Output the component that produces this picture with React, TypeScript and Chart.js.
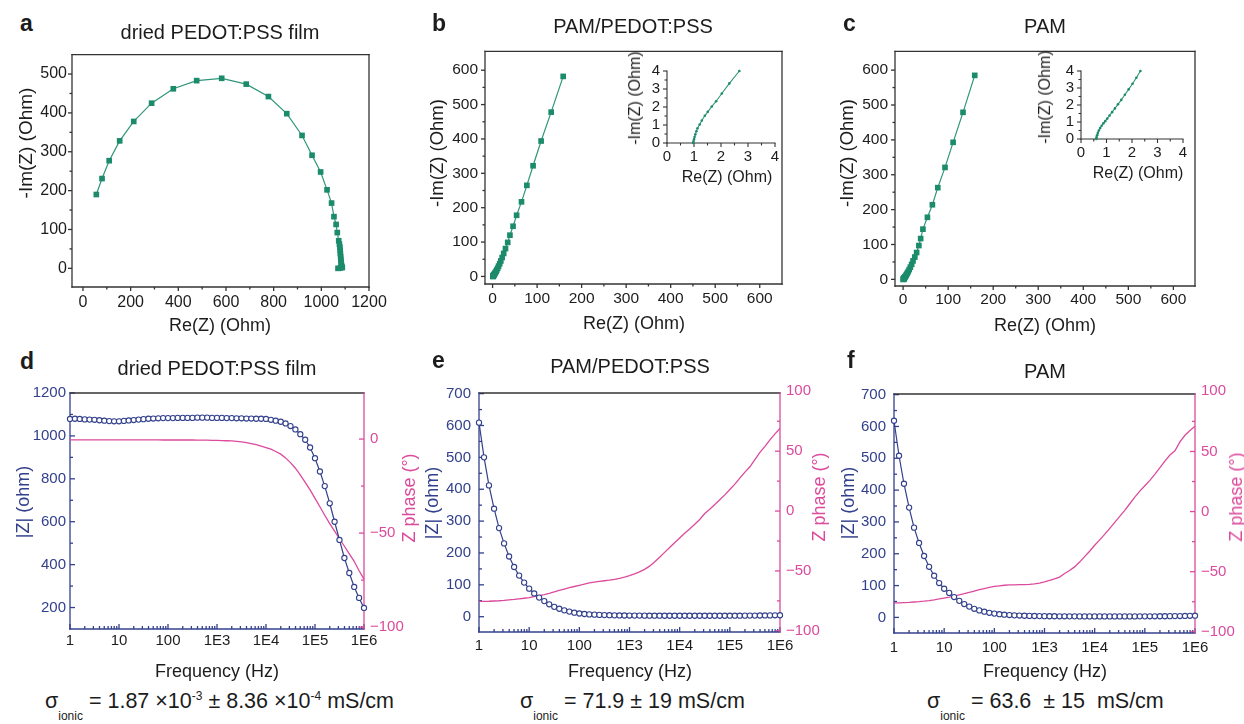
import React, { useEffect, useRef } from 'react';
import { Chart, registerables } from 'chart.js';

Chart.register(...registerables);
const FONT = "'Liberation Sans', Arial, Helvetica, sans-serif";
Chart.defaults.font.family = FONT;

const TEAL = '#1b8b6b';
const TEAL_LINE = '#2f967a';
const NAVY = '#33408c';
const PINK = '#dc4a9c';
const FRAME = '#333333';
const INK = '#1c1c1c';

// ---------- Nyquist data ----------
const A_RE = [56, 80, 110, 154, 213, 288, 379, 477, 582, 685, 778, 855, 919, 961, 997, 1024, 1043, 1053, 1062, 1067, 1073, 1076, 1078, 1079, 1080, 1081, 1082, 1083, 1084, 1086, 1088, 1080, 1070];
const A_IM = [190, 231, 277, 328, 378, 425, 462, 483, 489, 474, 442, 398, 342, 291, 248, 202, 168, 133, 113, 92, 71, 62, 54, 46, 38, 30, 23, 16, 10, 5, 2, 1, 0];

const B_RE = [158.6, 131.6, 109, 91, 77, 65, 54, 46, 39, 34, 29, 25, 21.5, 18.5, 16, 13.5, 11.5, 9.5, 8, 6.5, 5.3, 4.3, 3.5, 2.8, 2.2, 1.8, 1.5, 1.3, 1.15, 1.05, 1.0];
const B_IM = [582, 478, 394, 322, 265, 217, 178, 146, 120, 99, 81, 67, 55, 45, 37, 30, 24, 19, 15, 12, 9.3, 7.2, 5.6, 4.3, 3.3, 2.5, 1.8, 1.2, 0.7, 0.3, 0];

const C_RE = [159, 133, 111, 93, 77, 65, 54, 44, 39, 35, 30, 26, 22, 19, 16, 13.5, 11.3, 9.4, 7.8, 6.4, 5.2, 4.2, 3.4, 2.7, 2.2, 1.8, 1.45, 1.15, 0.9, 0.75, 0.65];
const C_IM = [585, 479, 393, 321, 263, 214, 178, 144, 117, 97, 77, 64, 53, 43, 35, 28, 22.5, 18, 14.5, 11.5, 9, 7, 5.6, 4.4, 3.4, 2.6, 1.9, 1.2, 0.6, 0.25, 0];

const IB_RE = [0.97, 0.98, 1.0, 1.02, 1.05, 1.09, 1.13, 1.21, 1.29, 1.4, 1.51, 1.66, 1.82, 2.03, 2.31, 2.68];
const IB_IM = [0, 0.08, 0.2, 0.33, 0.48, 0.65, 0.82, 1.03, 1.25, 1.51, 1.73, 2.03, 2.32, 2.75, 3.31, 4.0];

const IC_RE = [0.6, 0.61, 0.63, 0.66, 0.7, 0.75, 0.81, 0.88, 0.95, 1.03, 1.12, 1.22, 1.33, 1.45, 1.58, 1.72, 1.87, 2.02, 2.17, 2.33];
const IC_IM = [0, 0.1, 0.22, 0.36, 0.5, 0.64, 0.78, 0.92, 1.05, 1.2, 1.38, 1.58, 1.8, 2.04, 2.3, 2.6, 2.92, 3.25, 3.6, 4.0];

// ---------- Bode data ----------
const FREQ = [
  1, 1.26, 1.58, 2, 2.51, 3.16, 3.98, 5.01, 6.31, 7.94,
  10, 12.6, 15.8, 20, 25.1, 31.6, 39.8, 50.1, 63.1, 79.4,
  100, 126, 158, 200, 251, 316, 398, 501, 631, 794,
  1000, 1260, 1580, 2000, 2510, 3160, 3980, 5010, 6310, 7940,
  1e4, 1.26e4, 1.58e4, 2e4, 2.51e4, 3.16e4, 3.98e4, 5.01e4, 6.31e4, 7.94e4,
  1e5, 1.26e5, 1.58e5, 2e5, 2.51e5, 3.16e5, 3.98e5, 5.01e5, 6.31e5, 7.94e5,
  1e6,
];

const D_MAG = [
  1079, 1080, 1079, 1077, 1076, 1075, 1073, 1071, 1069, 1068,
  1068, 1070, 1072, 1074, 1076, 1078, 1080, 1081, 1082, 1083,
  1083, 1083, 1084, 1084, 1084, 1084, 1085, 1085, 1085, 1084,
  1084, 1084, 1083, 1083, 1082, 1082, 1081, 1081, 1080, 1080,
  1079, 1075, 1071, 1066, 1058, 1046, 1030, 1008, 982, 946,
  896, 834, 766, 686, 600, 515, 431, 361, 296, 245,
  198,
];
const D_PHASE = [
  -0.4, -0.4, -0.4, -0.4, -0.4, -0.4, -0.4, -0.4, -0.4, -0.4,
  -0.4, -0.4, -0.4, -0.4, -0.4, -0.4, -0.4, -0.4, -0.4, -0.5,
  -0.5, -0.5, -0.5, -0.5, -0.5, -0.5, -0.6, -0.6, -0.6, -0.7,
  -0.7, -0.8, -0.9, -1.0, -1.2, -1.5, -1.9, -2.4, -3.0, -3.7,
  -4.5, -5.4, -6.6, -8.0, -10, -12.5, -15.5, -19, -23, -27,
  -31.5, -36, -40.5, -45, -49, -53, -57, -61, -65, -70,
  -74.5,
];

const E_MAG = [
  609, 500, 412, 339, 278, 230, 189, 156, 129, 107,
  88, 73, 60, 49, 39, 31, 25, 20, 16, 12.5,
  10, 8.5, 7.3, 6.4, 5.7, 5.1, 4.7, 4.3, 4.0, 3.8,
  3.6, 3.5, 3.4, 3.3, 3.2, 3.1, 3.1, 3.0, 3.0, 3.0,
  3.0, 3.0, 3.0, 3.0, 3.0, 3.0, 3.0, 3.0, 3.0, 3.0,
  3.1, 3.1, 3.2, 3.3, 3.4, 3.5, 3.7, 3.9, 4.1, 4.4,
  4.6,
];
const E_PHASE = [
  -75.5, -75.4, -75.3, -75.1, -74.9, -74.6, -74.2, -73.8, -73.3, -72.8,
  -72.3, -71.5, -70.6, -69.7, -68.7, -67.5, -66.3, -65.1, -64, -63,
  -62, -61, -60, -59.4, -58.8, -58.2, -57.7, -57, -56.2, -55.2,
  -54, -52.5, -50.8, -48.7, -46, -42.5, -38.5, -34.5, -30.5, -26.5,
  -22.5, -18.5, -15, -11, -7, -2, 1.5, 5.5, 9.5, 13.5,
  18, 22.5, 27.5, 32.5, 37, 43, 49, 54, 59.5, 64.5,
  69,
];

const F_MAG = [
  618, 508, 420, 345, 282, 234, 193, 159, 131, 108,
  90, 77, 64, 52, 42, 34, 27, 22, 18, 14.5,
  12, 10, 8.5, 7.4, 6.5, 5.8, 5.2, 4.8, 4.4, 4.1,
  3.9, 3.7, 3.6, 3.5, 3.4, 3.3, 3.3, 3.2, 3.2, 3.2,
  3.2, 3.2, 3.2, 3.2, 3.2, 3.2, 3.2, 3.2, 3.2, 3.3,
  3.3, 3.4, 3.5, 3.6, 3.7, 3.9, 4.1, 4.3, 4.6, 5.0,
  5.3,
];
const F_PHASE = [
  -76, -75.9, -75.7, -75.5, -75.2, -74.9, -74.5, -74, -73.4, -72.7,
  -71.9, -71.2, -70.3, -69.2, -68.3, -67.2, -66.1, -65, -64, -63,
  -62.3, -61.8, -61.3, -61, -60.9, -60.8, -60.8, -60.6, -60.2, -59.5,
  -58.5, -57.3, -56, -54.5, -51.5, -49, -46, -42, -37.5, -33,
  -28, -23.5, -19, -14, -9, -4, 1, 6.5, 12, 17,
  21.5, 26, 31, 36.5, 42, 47, 50.5, 58, 63.5, 67.5,
  71,
];

// ---------- tick labels ----------
const A_X_TICKS = [0, 200, 400, 600, 800, 1000, 1200];
const A_Y_TICKS = [0, 100, 200, 300, 400, 500];
const BC_TICKS = [0, 100, 200, 300, 400, 500, 600];
const INSET_TICKS = [0, 1, 2, 3, 4];
const FREQ_TICKS = [1, 10, 100, 1e3, 1e4, 1e5, 1e6];
const FREQ_LABELS = ['1', '10', '100', '1E3', '1E4', '1E5', '1E6'];
const D_MAG_TICKS = [200, 400, 600, 800, 1000, 1200];
const D_PHASE_TICKS = [-100, -50, 0];
const EF_MAG_TICKS = [0, 100, 200, 300, 400, 500, 600, 700];
const EF_PHASE_TICKS = [-100, -50, 0, 50, 100];

// ---------- helpers ----------
const pts = (xs: number[], ys: number[]) => xs.map((x, i) => ({ x, y: ys[i] }));
const mids = (a: number[]) => a.slice(0, -1).map((v, i) => (v + a[i + 1]) / 2);
const logMinor = () => {
  const r: number[] = [];
  for (let d = 1; d < 1e6; d *= 10) for (let m = 2; m <= 9; m++) r.push(d * m);
  return r;
};
const fmtNum = (v: number) => (v < 0 ? '\u2212' + Math.abs(v) : String(v));

type Box = { left: number; top: number; width: number; height: number };
type Plot = { L: number; T: number; R: number; B: number };

function geom(box: Box, plot: Plot) {
  return {
    left: plot.L - box.left,
    top: plot.T - box.top,
    right: box.left + box.width - plot.R,
    bottom: box.top + box.height - plot.B,
  };
}

function deco(frame: any, specs: any[], lw: number) {
  return {
    id: 'deco',
    beforeDatasetsDraw(chart: any) {
      const ctx = chart.ctx;
      const a = chart.chartArea;
      ctx.save();
      ctx.lineWidth = lw;
      const seg = (x1: number, y1: number, x2: number, y2: number, c: string) => {
        ctx.strokeStyle = c;
        ctx.beginPath();
        ctx.moveTo(x1, y1);
        ctx.lineTo(x2, y2);
        ctx.stroke();
      };
      specs.forEach((sp) => {
        const s = chart.scales[sp.id];
        const put = (vals: number[], len: number) =>
          vals.forEach((v) => {
            if (v < s.min || v > s.max) return;
            const p = s.getPixelForValue(v);
            if (sp.side === 'bottom') {
              const d = sp.dir === 'out' ? len : -len;
              seg(p, a.bottom, p, a.bottom + d, sp.color);
            } else if (sp.side === 'left') {
              const d = sp.dir === 'out' ? -len : len;
              seg(a.left, p, a.left + d, p, sp.color);
            } else if (sp.side === 'right') {
              const d = sp.dir === 'out' ? len : -len;
              seg(a.right, p, a.right + d, p, sp.color);
            }
          });
        put(sp.major, sp.majorLen);
        put(sp.minor, sp.minorLen);
      });
      ctx.lineCap = 'square';
      if (frame.top) seg(a.left, a.top, a.right, a.top, frame.top);
      if (frame.bottom) seg(a.left, a.bottom, a.right, a.bottom, frame.bottom);
      if (frame.left) seg(a.left, a.top, a.left, a.bottom, frame.left);
      if (frame.right) seg(a.right, a.top, a.right, a.bottom, frame.right);
      ctx.restore();
    },
  };
}

function axis(o: any) {
  const horiz = o.position === 'bottom' || o.position === 'top';
  return {
    type: o.type || 'linear',
    position: o.position,
    min: o.min,
    max: o.max,
    afterBuildTicks: (s: any) => {
      s.ticks = o.ticks.map((v: number) => ({ value: v }));
    },
    afterFit: (s: any) => {
      if (horiz) s.height = o.size;
      else s.width = o.size;
    },
    grid: { display: false, drawTicks: false },
    border: { display: false },
    ticks: {
      color: o.color,
      font: { size: o.font, family: FONT },
      padding: o.pad,
      autoSkip: false,
      maxRotation: 0,
      minRotation: 0,
      callback: (v: any) => (o.fmt ? o.fmt(Number(v)) : fmtNum(Number(v))),
    },
  };
}

function baseOptions(top: number, right: number) {
  return {
    responsive: false,
    animation: false,
    events: [],
    devicePixelRatio: 1,
    layout: { padding: { top, right, left: 0, bottom: 0 } },
    plugins: { legend: { display: false }, tooltip: { enabled: false }, title: { display: false } },
  };
}

function nyquistCfg(p: any) {
  const g = geom(p.box, p.plot);
  return {
    type: 'scatter',
    data: {
      datasets: [
        {
          data: pts(p.re, p.im),
          showLine: true,
          borderColor: TEAL_LINE,
          borderWidth: p.lw,
          pointStyle: p.ps,
          pointRadius: p.r,
          pointBackgroundColor: TEAL,
          pointBorderColor: TEAL,
          pointBorderWidth: 0,
          clip: false,
        },
      ],
    },
    options: {
      ...baseOptions(g.top, g.right),
      scales: {
        x: axis({ position: 'bottom', min: p.xMin, max: p.xMax, ticks: p.xTicks, size: g.bottom, color: INK, font: p.font, pad: p.xPad }),
        y: axis({ position: 'left', min: p.yMin, max: p.yMax, ticks: p.yTicks, size: g.left, color: INK, font: p.font, pad: p.yPad }),
      },
    },
    plugins: [
      deco(
        p.inset ? { left: FRAME, bottom: FRAME } : { left: FRAME, bottom: FRAME, top: FRAME, right: FRAME },
        [
          { id: 'x', side: 'bottom', major: p.xTicks, minor: mids(p.xTicks), dir: 'out', color: FRAME, majorLen: 4, minorLen: 2.5 },
          { id: 'y', side: 'left', major: p.yTicks, minor: mids(p.yTicks), dir: 'out', color: FRAME, majorLen: 4, minorLen: 2.5 },
        ],
        p.inset ? 1.1 : 1.3
      ),
    ],
  };
}

function bodeCfg(p: any) {
  const g = geom(p.box, p.plot);
  return {
    type: 'scatter',
    data: {
      datasets: [
        {
          data: pts(FREQ, p.mag),
          yAxisID: 'y',
          showLine: true,
          borderColor: NAVY,
          borderWidth: 1.2,
          pointStyle: 'circle',
          pointRadius: 2.6,
          pointBackgroundColor: '#ffffff',
          pointBorderColor: NAVY,
          pointBorderWidth: 1.1,
          clip: false,
        },
        {
          data: pts(FREQ, p.phase),
          yAxisID: 'y1',
          showLine: true,
          borderColor: PINK,
          borderWidth: 1.3,
          pointRadius: 0,
          clip: false,
        },
      ],
    },
    options: {
      ...baseOptions(g.top, 0),
      scales: {
        x: axis({
          type: 'logarithmic', position: 'bottom', min: 1, max: 1e6, ticks: FREQ_TICKS, size: g.bottom, color: INK, font: 15, pad: p.xPad,
          fmt: (v: number) => FREQ_LABELS[FREQ_TICKS.indexOf(v)] || '',
        }),
        y: axis({ position: 'left', min: p.yMin, max: p.yMax, ticks: p.yTicks, size: g.left, color: NAVY, font: 15, pad: p.yPad }),
        y1: axis({ position: 'right', min: p.pMin, max: p.pMax, ticks: p.pTicks, size: g.right, color: PINK, font: 15, pad: p.pPad }),
      },
    },
    plugins: [
      deco(
        { left: NAVY, bottom: NAVY, top: FRAME, right: PINK },
        [
          { id: 'x', side: 'bottom', major: FREQ_TICKS, minor: logMinor(), dir: 'in', color: NAVY, majorLen: 5, minorLen: 3 },
          { id: 'y', side: 'left', major: p.yTicks, minor: p.yMinor, dir: 'in', color: NAVY, majorLen: 5, minorLen: 3 },
          { id: 'y1', side: 'right', major: p.pTicks, minor: p.pMinor, dir: 'in', color: PINK, majorLen: 5, minorLen: 3 },
        ],
        1.3
      ),
    ],
  };
}

function ChartCanvas({ box, make }: { box: Box; make: () => any }) {
  const ref = useRef<HTMLCanvasElement | null>(null);
  useEffect(() => {
    const chart = new Chart(ref.current as HTMLCanvasElement, make());
    return () => chart.destroy();
  }, []);
  return (
    <canvas
      ref={ref}
      width={box.width}
      height={box.height}
      style={{ position: 'absolute', left: box.left, top: box.top, width: box.width, height: box.height }}
    />
  );
}

function Txt({ x, y, size, color = INK, bold = false, rot = false, anchor = 'middle', children }: any) {
  const base: any = {
    position: 'absolute',
    fontFamily: FONT,
    fontSize: size,
    lineHeight: `${size}px`,
    color,
    fontWeight: bold ? 700 : 400,
    whiteSpace: 'pre',
  };
  if (rot) {
    return <div style={{ ...base, left: x, top: y, transform: 'translate(-50%, -50%) rotate(-90deg)' }}>{children}</div>;
  }
  return (
    <div style={{ ...base, left: x, top: y - 0.8465 * size, transform: anchor === 'middle' ? 'translateX(-50%)' : 'none' }}>
      {children}
    </div>
  );
}

const SUB: any = { fontSize: 12, position: 'relative', top: 12 };
const SUP: any = { fontSize: 12, position: 'relative', top: -8 };

// ---------- panels geometry ----------
const BOX_A = { left: 0, top: 40, width: 400, height: 290 };
const BOX_B = { left: 410, top: 35, width: 410, height: 290 };
const BOX_C = { left: 820, top: 35, width: 424, height: 290 };
const BOX_IB = { left: 640, top: 55, width: 150, height: 115 };
const BOX_IC = { left: 1050, top: 55, width: 150, height: 110 };
const BOX_D = { left: 0, top: 378, width: 420, height: 285 };
const BOX_E = { left: 410, top: 376, width: 420, height: 287 };
const BOX_F = { left: 820, top: 377, width: 424, height: 286 };

export default function App() {
  return (
    <div style={{ position: 'absolute', left: 0, top: 0, width: 1244, height: 724, background: '#ffffff', overflow: 'hidden' }}>
      <ChartCanvas
        box={BOX_A}
        make={() =>
          nyquistCfg({
            box: BOX_A, plot: { L: 72, T: 48, R: 369, B: 287 }, re: A_RE, im: A_IM,
            xMin: -46, xMax: 1200, yMin: -48, yMax: 550, xTicks: A_X_TICKS, yTicks: A_Y_TICKS,
            font: 16, xPad: 6, yPad: 5, ps: 'rect', r: 4, lw: 1.2,
          })
        }
      />
      <ChartCanvas
        box={BOX_B}
        make={() =>
          nyquistCfg({
            box: BOX_B, plot: { L: 485, T: 43, R: 782, B: 284 }, re: B_RE, im: B_IM,
            xMin: -17, xMax: 650, yMin: -22, yMax: 655, xTicks: BC_TICKS, yTicks: BC_TICKS,
            font: 15.5, xPad: 5, yPad: 7, ps: 'rect', r: 4, lw: 1.2,
          })
        }
      />
      <ChartCanvas
        box={BOX_C}
        make={() =>
          nyquistCfg({
            box: BOX_C, plot: { L: 895, T: 44, R: 1195, B: 286 }, re: C_RE, im: C_IM,
            xMin: -18, xMax: 648, yMin: -19, yMax: 654, xTicks: BC_TICKS, yTicks: BC_TICKS,
            font: 15.5, xPad: 4, yPad: 7, ps: 'rect', r: 4, lw: 1.2,
          })
        }
      />
      <ChartCanvas
        box={BOX_IB}
        make={() =>
          nyquistCfg({
            box: BOX_IB, plot: { L: 667, T: 65, R: 775, B: 143 }, re: IB_RE, im: IB_IM, inset: true,
            xMin: 0, xMax: 4, yMin: 0, yMax: 4, xTicks: INSET_TICKS, yTicks: INSET_TICKS,
            font: 15, xPad: 5, yPad: 7, ps: 'circle', r: 1.3, lw: 1.1,
          })
        }
      />
      <ChartCanvas
        box={BOX_IC}
        make={() =>
          nyquistCfg({
            box: BOX_IC, plot: { L: 1081, T: 66, R: 1183, B: 139 }, re: IC_RE, im: IC_IM, inset: true,
            xMin: 0, xMax: 4, yMin: 0, yMax: 4, xTicks: INSET_TICKS, yTicks: INSET_TICKS,
            font: 15, xPad: 5, yPad: 7, ps: 'circle', r: 1.3, lw: 1.1,
          })
        }
      />
      <ChartCanvas
        box={BOX_D}
        make={() =>
          bodeCfg({
            box: BOX_D, plot: { L: 70, T: 393, R: 364, B: 629 }, mag: D_MAG, phase: D_PHASE,
            yMin: 100, yMax: 1200, yTicks: D_MAG_TICKS, yMinor: [300, 500, 700, 900, 1100],
            pMin: -101, pMax: 24.5, pTicks: D_PHASE_TICKS, pMinor: [-75, -25],
            xPad: 3, yPad: 4, pPad: 6,
          })
        }
      />
      <ChartCanvas
        box={BOX_E}
        make={() =>
          bodeCfg({
            box: BOX_E, plot: { L: 479, T: 391, R: 780, B: 632 }, mag: E_MAG, phase: E_PHASE,
            yMin: -48, yMax: 702, yTicks: EF_MAG_TICKS, yMinor: mids(EF_MAG_TICKS),
            pMin: -101, pMax: 98.6, pTicks: EF_PHASE_TICKS, pMinor: mids(EF_PHASE_TICKS),
            xPad: 5, yPad: 8, pPad: 6,
          })
        }
      />
      <ChartCanvas
        box={BOX_F}
        make={() =>
          bodeCfg({
            box: BOX_F, plot: { L: 894, T: 392, R: 1195, B: 633 }, mag: F_MAG, phase: F_PHASE,
            yMin: -49, yMax: 702, yTicks: EF_MAG_TICKS, yMinor: mids(EF_MAG_TICKS),
            pMin: -101, pMax: 97.8, pTicks: EF_PHASE_TICKS, pMinor: mids(EF_PHASE_TICKS),
            xPad: 6, yPad: 8, pPad: 6,
          })
        }
      />

      {/* panel letters */}
      <Txt x={20} y={31} size={23} bold anchor="start">a</Txt>
      <Txt x={432} y={31} size={23} bold anchor="start">b</Txt>
      <Txt x={843} y={31} size={23} bold anchor="start">c</Txt>
      <Txt x={20} y={369} size={23} bold anchor="start">d</Txt>
      <Txt x={432} y={368} size={23} bold anchor="start">e</Txt>
      <Txt x={847} y={368} size={23} bold anchor="start">f</Txt>

      {/* panel titles */}
      <Txt x={220} y={39} size={20}>dried PEDOT:PSS film</Txt>
      <Txt x={633} y={33} size={20}>PAM/PEDOT:PSS</Txt>
      <Txt x={1045} y={33} size={20}>PAM</Txt>
      <Txt x={217} y={375} size={20}>dried PEDOT:PSS film</Txt>
      <Txt x={630} y={373} size={20}>PAM/PEDOT:PSS</Txt>
      <Txt x={1045} y={378} size={20}>PAM</Txt>

      {/* Nyquist axis titles */}
      <Txt x={220} y={331} size={18}>Re(Z) (Ohm)</Txt>
      <Txt x={25} y={143} size={19} rot>-Im(Z) (Ohm)</Txt>
      <Txt x={634} y={329} size={18}>Re(Z) (Ohm)</Txt>
      <Txt x={437} y={153} size={18.5} rot>-Im(Z) (Ohm)</Txt>
      <Txt x={1045} y={331} size={18}>Re(Z) (Ohm)</Txt>
      <Txt x={847} y={153} size={18.5} rot>-Im(Z) (Ohm)</Txt>
      <Txt x={727} y={183} size={16}>Re(Z) (Ohm)</Txt>
      <Txt x={635} y={98} size={16} rot>-Im(Z) (Ohm)</Txt>
      <Txt x={1138} y={179} size={16}>Re(Z) (Ohm)</Txt>
      <Txt x={1045} y={97} size={16} rot>-Im(Z) (Ohm)</Txt>

      {/* Bode axis titles */}
      <Txt x={217} y={677} size={18}>Frequency (Hz)</Txt>
      <Txt x={23} y={502} size={18} rot color={NAVY}>|Z| (ohm)</Txt>
      <Txt x={409} y={498} size={18} rot color={PINK}>Z phase (°)</Txt>
      <Txt x={630} y={677} size={18}>Frequency (Hz)</Txt>
      <Txt x={432} y={503} size={18} rot color={NAVY}>|Z| (ohm)</Txt>
      <Txt x={819} y={497} size={18} rot color={PINK}>Z phase (°)</Txt>
      <Txt x={1045} y={677} size={18}>Frequency (Hz)</Txt>
      <Txt x={848} y={503} size={18} rot color={NAVY}>|Z| (ohm)</Txt>
      <Txt x={1236} y={497} size={18} rot color={PINK}>Z phase (°)</Txt>

      {/* conductivities */}
      <Txt x={45} y={709} size={21.5} anchor="start">
        σ<span style={SUB}>ionic</span> = 1.87 ×10<span style={SUP}>-3</span> ± 8.36 ×10<span style={SUP}>-4</span> mS/cm
      </Txt>
      <Txt x={520} y={709} size={21.5} anchor="start">
        σ<span style={SUB}>ionic</span> = 71.9 ± 19 mS/cm
      </Txt>
      <Txt x={927} y={709} size={21.5} anchor="start">
        σ<span style={SUB}>ionic</span>{' = 63.6  ± 15  mS/cm'}
      </Txt>
    </div>
  );
}
